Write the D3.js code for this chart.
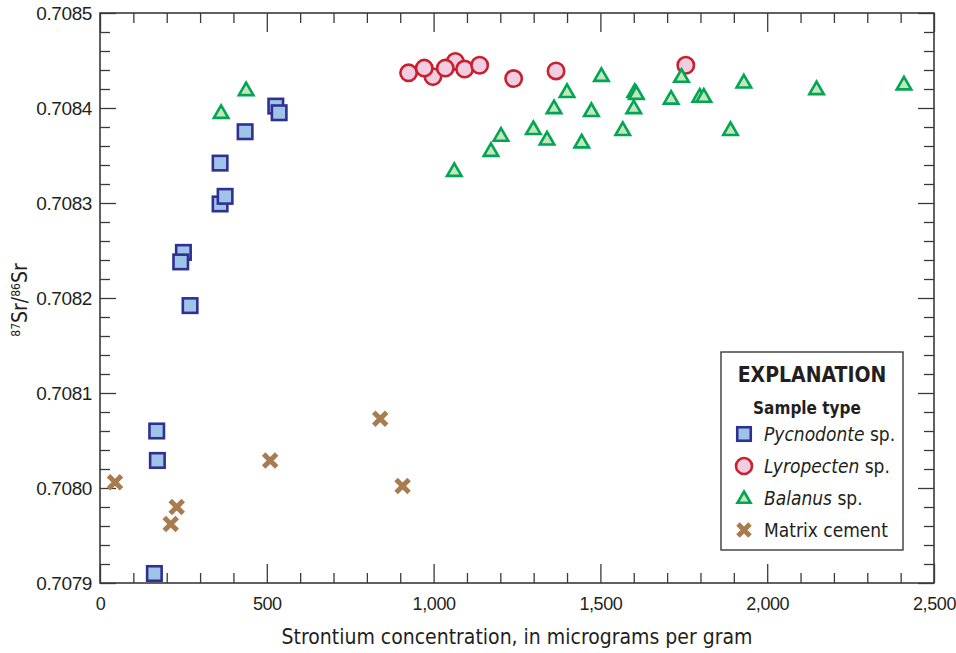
<!DOCTYPE html>
<html><head><meta charset="utf-8">
<script src="https://cdn.jsdelivr.net/npm/d3@7"></script>
<style>
html,body{margin:0;padding:0;background:#fff;}
svg{display:block;font-family:"Liberation Sans Narrow","Arial Narrow","DejaVu Sans Condensed",sans-serif;}
</style></head>
<body>
<svg id="chart" width="956" height="653"></svg>
<script>
// ---- data (Sr concentration µg/g, 87Sr/86Sr) ----
const pycnodonte = [[527,0.708402],[537,0.708395],[435,0.708375],[360,0.708342],[360,0.708299],[375,0.708307],[250,0.708248],[242,0.708238],[270,0.708192],[170,0.708060],[172,0.708029],[163,0.707910]];
const lyropecten = [[998,0.708433],[1065,0.708449],[925,0.708437],[972,0.708442],[1035,0.708442],[1093,0.708441],[1138,0.708445],[1240,0.708431],[1367,0.708439],[1756,0.708445]];
const balanus = [[363,0.708394],[438,0.708418],[1062,0.708333],[1172,0.708354],[1202,0.708370],[1299,0.708377],[1340,0.708366],[1361,0.708399],[1400,0.708416],[1444,0.708363],[1473,0.708396],[1503,0.708433],[1567,0.708376],[1600,0.708399],[1603,0.708416],[1608,0.708414],[1712,0.708409],[1743,0.708432],[1798,0.708411],[1810,0.708411],[1890,0.708376],[1930,0.708426],[2148,0.708419],[2410,0.708424]];
const matrixCement = [[45,0.708006],[230,0.707980],[212,0.707962],[510,0.708029],[840,0.708073],[907,0.708002]];
const xDomain = [0,2500];
const yDomain = [0.7079,0.7085];
const xMajorTicks = [0,500,1000,1500,2000,2500];
const yMajorTicks = [0.7079,0.7080,0.7081,0.7082,0.7083,0.7084,0.7085];
const legendItems = [
  {key:"sq", italic:"Pycnodonte", rest:" sp."},
  {key:"ci", italic:"Lyropecten", rest:" sp."},
  {key:"tr", italic:"Balanus", rest:" sp."},
  {key:"x", italic:"", rest:"Matrix cement"}
];
const xTitle = "Strontium concentration, in micrograms per gram";

// ---- layout ----
const W=956,H=653, m={l:100,r:22,t:13,b:70};
const svg=d3.select("#chart");
const x=d3.scaleLinear().domain(xDomain).range([m.l,W-m.r]);
const y=d3.scaleLinear().domain(yDomain).range([H-m.b,m.t]);
const axisColor="#3a3a3a";

const xMinor=d3.range(0,2501,100);
const yMinor=d3.range(0,31).map(i=>0.7079+i*0.00002);

function styleAxis(g){g.select(".domain").remove();g.selectAll("line").attr("stroke",axisColor).attr("stroke-width",1.3);}
const isMajX=v=>Math.abs(v%500)<1e-6;
const isMajY=v=>Math.abs(Math.round(v*1e5)%10)===0;

// bottom axis (ticks inward)
svg.append("g").attr("transform",`translate(0,${y.range()[0]})`)
 .call(d3.axisBottom(x).tickValues(xMinor).tickSizeInner(0).tickSizeOuter(0).tickFormat(""))
 .call(g=>{g.selectAll(".tick line").attr("y2",d=>isMajX(d)?-19:-10);styleAxis(g);});
svg.append("g").attr("transform",`translate(0,${y.range()[0]})`)
 .call(d3.axisBottom(x).tickValues(xMajorTicks).tickSize(0).tickPadding(14).tickFormat(d3.format(",")))
 .call(g=>{g.select(".domain").remove();g.selectAll("text").attr("font-size",18).attr("letter-spacing",-0.4).attr("fill","#231f20");});
// top axis
svg.append("g").attr("transform",`translate(0,${m.t})`)
 .call(d3.axisTop(x).tickValues(xMinor).tickSizeInner(0).tickSizeOuter(0).tickFormat(""))
 .call(g=>{g.selectAll(".tick line").attr("y2",d=>isMajX(d)?19:10);styleAxis(g);});
// left axis
svg.append("g").attr("transform",`translate(${m.l},0)`)
 .call(d3.axisLeft(y).tickValues(yMinor).tickSizeInner(0).tickSizeOuter(0).tickFormat(""))
 .call(g=>{g.selectAll(".tick line").attr("x2",d=>isMajY(d)?16:10);styleAxis(g);});
svg.append("g").attr("transform",`translate(${m.l},0)`)
 .call(d3.axisLeft(y).tickValues(yMajorTicks).tickSize(0).tickPadding(8).tickFormat(d3.format(".4f")))
 .call(g=>{g.select(".domain").remove();g.selectAll("text").attr("font-size",19).attr("letter-spacing",-0.4).attr("fill","#231f20");});
// right axis
svg.append("g").attr("transform",`translate(${W-m.r},0)`)
 .call(d3.axisRight(y).tickValues(yMinor).tickSizeInner(0).tickSizeOuter(0).tickFormat(""))
 .call(g=>{g.selectAll(".tick line").attr("x2",d=>isMajY(d)?-16:-10);styleAxis(g);});
// frame
svg.append("rect").attr("x",m.l).attr("y",m.t).attr("width",W-m.l-m.r).attr("height",H-m.t-m.b)
 .attr("fill","none").attr("stroke",axisColor).attr("stroke-width",1.6);

// titles
svg.append("text").attr("x",(m.l+W-m.r)/2).attr("y",644).attr("text-anchor","middle")
 .attr("font-size",21).attr("fill","#231f20").text(xTitle);
const yl=svg.append("text").attr("transform","translate(27,300) rotate(-90)").attr("text-anchor","middle")
 .attr("font-size",21).attr("fill","#231f20");
yl.append("tspan").attr("font-size",12).attr("dy",-7).text("87");
yl.append("tspan").attr("dy",7).text("Sr/");
yl.append("tspan").attr("font-size",12).attr("dy",-7).text("86");
yl.append("tspan").attr("dy",7).text("Sr");

// marker painters
const sqCol={fill:"#9fc4e7",stroke:"#2e3192"};
const ciCol={fill:"#f1cde1",stroke:"#c8202f"};
const trCol={fill:"#c6e5bf",stroke:"#00a651"};
const xCol="#a97c50";
function drawSquare(g,cx,cy,s){g.append("rect").attr("x",cx-s/2).attr("y",cy-s/2).attr("width",s).attr("height",s)
 .attr("fill",sqCol.fill).attr("stroke",sqCol.stroke).attr("stroke-width",2.6);}
function drawCircle(g,cx,cy,r){g.append("circle").attr("cx",cx).attr("cy",cy).attr("r",r)
 .attr("fill",ciCol.fill).attr("stroke",ciCol.stroke).attr("stroke-width",2.6);}
function drawTri(g,cx,cy,s){const h=s*Math.sqrt(3)/2;
 g.append("path").attr("d",`M${cx},${cy-2*h/3}L${cx+s/2},${cy+h/3}L${cx-s/2},${cy+h/3}Z`)
 .attr("fill",trCol.fill).attr("stroke",trCol.stroke).attr("stroke-width",2.6).attr("stroke-linejoin","miter");}
function drawX(g,cx,cy,a){g.append("path").attr("d",`M${cx-a},${cy-a}L${cx+a},${cy+a}M${cx-a},${cy+a}L${cx+a},${cy-a}`)
 .attr("stroke",xCol).attr("stroke-width",5).attr("fill","none");}

const pts=svg.append("g");
pycnodonte.forEach(d=>drawSquare(pts,x(d[0]),y(d[1]),14.5));
lyropecten.forEach(d=>drawCircle(pts,x(d[0]),y(d[1]),8.2));
balanus.forEach(d=>drawTri(pts,x(d[0]),y(d[1]),14.5));
matrixCement.forEach(d=>drawX(pts,x(d[0]),y(d[1]),6.5));

// legend
const lg=svg.append("g");
lg.append("rect").attr("x",721).attr("y",352).attr("width",182).attr("height",198)
 .attr("fill","#fff").attr("stroke",axisColor).attr("stroke-width",1.4);
lg.append("text").attr("x",812).attr("y",382).attr("text-anchor","middle").attr("font-weight","bold")
 .attr("font-size",21).attr("fill","#231f20").text("EXPLANATION");
lg.append("text").attr("x",807).attr("y",414).attr("text-anchor","middle").attr("font-weight","bold")
 .attr("font-size",17).attr("fill","#231f20").text("Sample type");
legendItems.forEach((it,i)=>{
  const cy=434+i*32;
  if(it.key==="sq") drawSquare(lg,744,cy,13.5);
  if(it.key==="ci") drawCircle(lg,744,cy,8);
  if(it.key==="tr") drawTri(lg,744,cy+1,13);
  if(it.key==="x") drawX(lg,744,cy,6);
  const t=lg.append("text").attr("x",764).attr("y",cy+7).attr("font-size",19).attr("fill","#231f20");
  if(it.italic) t.append("tspan").attr("font-style","italic").text(it.italic);
  t.append("tspan").text(it.rest);
});
</script>
</body></html>
